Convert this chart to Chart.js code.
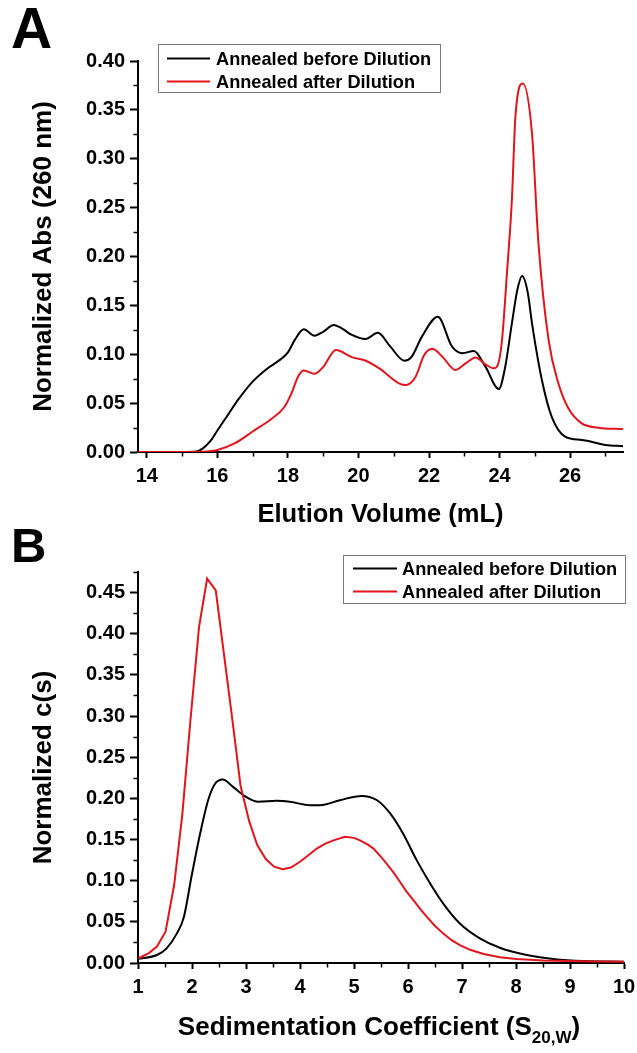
<!DOCTYPE html>
<html>
<head>
<meta charset="utf-8">
<script src="https://cdn.jsdelivr.net/npm/chart.js@4.4.1/dist/chart.umd.min.js"></script>
<style>
html,body{margin:0;padding:0;background:#fff;}
#wrap{position:relative;width:637px;height:1053px;overflow:hidden;background:#fff;}
canvas{position:absolute;left:0;}
#ca{top:0;}
#cb{top:530px;}
.letter{position:absolute;font-family:"Liberation Sans",Arial,Helvetica,sans-serif;font-weight:bold;color:#000;line-height:1;}
</style>
</head>
<body>
<div id="wrap">
  <div class="letter" style="left:11px;top:0px;font-size:57px;">A</div>
  <canvas id="ca" width="637" height="530"></canvas>
  <div class="letter" style="left:11px;top:521px;font-size:49px;">B</div>
  <canvas id="cb" width="637" height="523"></canvas>
</div>
<script>
// ---------------- DATA ----------------
const seriesNames = ['Annealed before Dilution', 'Annealed after Dilution'];

// Panel A: size-exclusion elution profile
const elutionVolBefore = [13.75,15.0,15.4,15.6,15.8,16.0,16.3,16.6,17.0,17.4,17.8,18.0,18.2,18.45,18.75,19.0,19.3,19.55,19.8,20.2,20.55,20.9,21.3,21.5,21.8,22.25,22.65,22.95,23.27,23.6,23.98,24.15,24.35,24.5,24.64,24.8,24.92,25.2,25.48,25.86,26.33,26.55,27.0,27.5];
const absBefore        = [0,0,0.0005,0.004,0.011,0.022,0.038,0.054,0.072,0.085,0.095,0.102,0.115,0.1255,0.119,0.123,0.130,0.126,0.120,0.1156,0.122,0.108,0.0934,0.097,0.118,0.1384,0.108,0.101,0.1033,0.0873,0.0644,0.085,0.1316,0.165,0.180,0.163,0.1316,0.0737,0.036,0.0157,0.0123,0.011,0.0072,0.006];
const elutionVolAfter  = [13.75,15.5,15.7,16.0,16.5,17.0,17.5,17.9,18.1,18.3,18.45,18.75,19.0,19.36,19.83,20.21,20.59,21.15,21.34,21.62,21.86,22.09,22.38,22.75,23.04,23.32,23.6,23.84,23.95,24.07,24.21,24.35,24.45,24.66,24.92,25.1,25.39,25.67,25.95,26.33,26.8,27.5];
const absAfter         = [0,0,0.0005,0.002,0.009,0.021,0.033,0.046,0.060,0.078,0.0835,0.080,0.087,0.1043,0.0968,0.0934,0.0856,0.0703,0.0685,0.077,0.099,0.1057,0.0975,0.0839,0.0907,0.0968,0.0897,0.0856,0.089,0.1146,0.183,0.258,0.343,0.377,0.326,0.215,0.1146,0.070,0.0447,0.0293,0.0249,0.0235];

// Panel B: sedimentation coefficient distribution
const sedBefore = [1.0,1.35,1.53,1.72,1.85,1.99,2.15,2.30,2.43,2.57,2.76,2.98,3.23,3.57,3.81,4.19,4.37,4.74,5.14,5.42,5.67,5.91,6.16,6.41,6.65,6.96,7.33,7.70,8.2,8.69,9.25,10];
const csBefore  = [0.005,0.0097,0.0178,0.036,0.056,0.1047,0.157,0.198,0.218,0.223,0.214,0.2027,0.1958,0.197,0.1958,0.1917,0.1917,0.1978,0.203,0.198,0.1817,0.157,0.125,0.0967,0.0725,0.048,0.030,0.0186,0.0097,0.005,0.0024,0.0016];
const sedAfter  = [1.0,1.05,1.2,1.35,1.51,1.67,1.82,1.97,2.13,2.28,2.44,2.59,2.75,2.90,3.06,3.21,3.37,3.52,3.68,3.83,4.0,4.12,4.31,4.47,4.62,4.83,5.0,5.11,5.25,5.36,5.5,5.6,5.73,5.85,5.97,6.1,6.22,6.35,6.5,6.65,6.8,6.96,7.15,7.4,7.7,8.01,8.5,8.94,9.5,10];
const csAfter   = [0.0057,0.007,0.012,0.020,0.038,0.095,0.180,0.294,0.408,0.467,0.4527,0.376,0.294,0.215,0.172,0.143,0.126,0.117,0.114,0.116,0.123,0.129,0.139,0.145,0.149,0.1533,0.152,0.149,0.144,0.139,0.129,0.121,0.110,0.0987,0.087,0.0765,0.066,0.056,0.045,0.036,0.028,0.0218,0.016,0.011,0.007,0.0049,0.003,0.0024,0.0019,0.0016];

// Tick values
const xTicksA = [14,16,18,20,22,24,26];
const xMinorA = [15,17,19,21,23,25,27];
const yTicksA = [0,0.05,0.10,0.15,0.20,0.25,0.30,0.35,0.40];
const yMinorA = [0.025,0.075,0.125,0.175,0.225,0.275,0.325,0.375];
const xTicksB = [1,2,3,4,5,6,7,8,9,10];
const xMinorB = [1.5,2.5,3.5,4.5,5.5,6.5,7.5,8.5,9.5];
const yTicksB = [0,0.05,0.10,0.15,0.20,0.25,0.30,0.35,0.40,0.45];
const yMinorB = [0.025,0.075,0.125,0.175,0.225,0.275,0.325,0.375,0.425,0.475];

// ---------------- STYLE ----------------
const FONT = '"Liberation Sans", Arial, Helvetica, sans-serif';
const BLACK = '#000000';
const RED = '#e0151d';

function pts(xs, ys){ return xs.map((x,i)=>({x:x, y:ys[i]})); }

const minorTicks = {
  id:'minorTicks',
  afterDraw(chart, args, o){
    const ctx = chart.ctx, ca = chart.chartArea;
    const xs = chart.scales.x, ys = chart.scales.y;
    ctx.save();
    ctx.strokeStyle = '#000'; ctx.lineWidth = 1.5;
    ctx.beginPath();
    (o.x||[]).forEach(v=>{ const p = Math.round(xs.getPixelForValue(v))+0.5; ctx.moveTo(p, ca.bottom); ctx.lineTo(p, ca.bottom+4.5); });
    (o.y||[]).forEach(v=>{ const p = Math.round(ys.getPixelForValue(v))+0.5; ctx.moveTo(ca.left, p); ctx.lineTo(ca.left-4.5, p); });
    ctx.stroke();
    ctx.restore();
  }
};

const boxLegend = {
  id:'boxLegend',
  afterDraw(chart, args, o){
    const ctx = chart.ctx;
    ctx.save();
    ctx.strokeStyle = '#7a7a7a'; ctx.lineWidth = 1;
    ctx.strokeRect(o.left+0.5, o.top+0.5, o.width, o.height);
    ctx.font = 'bold 18.2px ' + FONT;
    ctx.textBaseline = 'middle';
    ctx.textAlign = 'left';
    chart.data.datasets.forEach((ds, i)=>{
      const yy = o.rowY[i];
      ctx.strokeStyle = ds.borderColor; ctx.lineWidth = 2;
      ctx.beginPath(); ctx.moveTo(o.lineX0, yy); ctx.lineTo(o.lineX1, yy); ctx.stroke();
      ctx.fillStyle = '#000';
      ctx.fillText(ds.label, o.textX, yy+1);
    });
    ctx.restore();
  }
};

const subTitle = {
  id:'subTitle',
  afterDraw(chart, args, o){
    if(!o.main) return;
    const ctx = chart.ctx, ca = chart.chartArea;
    ctx.save();
    ctx.fillStyle = '#000';
    ctx.textBaseline = 'alphabetic'; ctx.textAlign = 'left';
    const fMain = 'bold 26px ' + FONT, fSub = 'bold 17px ' + FONT;
    ctx.font = fMain; const w1 = ctx.measureText(o.main).width; const w3 = ctx.measureText(o.tail).width;
    ctx.font = fSub; const w2 = ctx.measureText(o.sub).width;
    let x = (ca.left + ca.right)/2 - (w1+w2+w3)/2 - 2;
    const base = o.baseline;
    ctx.font = fMain; ctx.fillText(o.main, x, base); x += w1;
    ctx.font = fSub; ctx.fillText(o.sub, x, base + 8); x += w2;
    ctx.font = fMain; ctx.fillText(o.tail, x, base);
    ctx.restore();
  }
};

function makeScale(opts){
  return {
    type:'linear',
    min: opts.min, max: opts.max,
    afterBuildTicks: s => { s.ticks = opts.ticks.map(v=>({value:v})); },
    afterFit: s => {
      if (opts.width!=null) s.width = opts.width;
      if (opts.height!=null) s.height = opts.height;
      s.paddingLeft = 0; s.paddingRight = 0; s.paddingTop = 0; s.paddingBottom = 0;
    },
    grid:{ display:true, drawOnChartArea:false, drawTicks:true, tickLength: opts.tickLength, tickWidth:2, tickColor:'#000' },
    border:{ display:true, color:'#000', width:2 },
    ticks:{ color:'#000', font:{family:FONT, size:20, weight:'bold'}, padding: opts.pad, autoSkip:false, maxRotation:0, minRotation:0,
            callback: opts.fmt },
    title:{ display: !!opts.title, text: opts.title || '', color:'#000', font:{family:FONT, size: opts.titleSize || 26, weight:'bold'}, padding:{top:0,bottom:0} }
  };
}

// ---------------- CHART A ----------------
new Chart(document.getElementById('ca'), {
  type:'line',
  data:{ datasets:[
    { label: seriesNames[0], data: pts(elutionVolBefore, absBefore), borderColor: BLACK, borderWidth:2, pointRadius:0, cubicInterpolationMode:'monotone', order:1, fill:false },
    { label: seriesNames[1], data: pts(elutionVolAfter, absAfter), borderColor: RED, borderWidth:2, pointRadius:0, cubicInterpolationMode:'monotone', order:0, fill:false }
  ]},
  options:{
    responsive:false, animation:false, devicePixelRatio:1,
    layout:{ padding:{ left:28, right:14, top:61, bottom:0 } },
    plugins:{
      legend:{display:false}, tooltip:{enabled:false},
      minorTicks:{ x:xMinorA, y:yMinorA },
      boxLegend:{ left:158, top:44, width:282, height:48, lineX0:167, lineX1:210, textX:216, rowY:[58.5,81.5] },
      subTitle:{}
    },
    scales:{
      x: makeScale({min:13.75, max:27.5, ticks:xTicksA, height:78, tickLength:6, pad:6, fmt:v=>String(v), title:'Elution Volume (mL)', titleSize:25.5}),
      y: makeScale({min:0, max:0.4, ticks:yTicksA, width:110, tickLength:8, pad:5, fmt:v=>v.toFixed(2), title:'Normalized Abs (260 nm)', titleSize:26})
    }
  },
  plugins:[minorTicks, boxLegend, subTitle]
});

// ---------------- CHART B ----------------
new Chart(document.getElementById('cb'), {
  type:'line',
  data:{ datasets:[
    { label: seriesNames[0], data: pts(sedBefore, csBefore), borderColor: BLACK, borderWidth:2, pointRadius:0, cubicInterpolationMode:'monotone', order:1, fill:false },
    { label: seriesNames[1], data: pts(sedAfter, csAfter), borderColor: RED, borderWidth:2, pointRadius:0, tension:0, order:0, fill:false }
  ]},
  options:{
    responsive:false, animation:false, devicePixelRatio:1,
    layout:{ padding:{ left:28, right:13, top:42, bottom:0 } },
    plugins:{
      legend:{display:false}, tooltip:{enabled:false},
      minorTicks:{ x:xMinorB, y:yMinorB },
      boxLegend:{ left:343, top:25, width:282, height:48, lineX0:353, lineX1:397, textX:402, rowY:[38.5,61.5] },
      subTitle:{ main:'Sedimentation Coefficient (S', sub:'20,W', tail:')', baseline:505 }
    },
    scales:{
      x: makeScale({min:1, max:10, ticks:xTicksB, height:90, tickLength:6, pad:6, fmt:v=>String(v), title:''}),
      y: makeScale({min:0, max:0.475, ticks:yTicksB, width:110, tickLength:8, pad:5, fmt:v=>v.toFixed(2), title:'Normalized c(s)', titleSize:26})
    }
  },
  plugins:[minorTicks, boxLegend, subTitle]
});
</script>
</body>
</html>
